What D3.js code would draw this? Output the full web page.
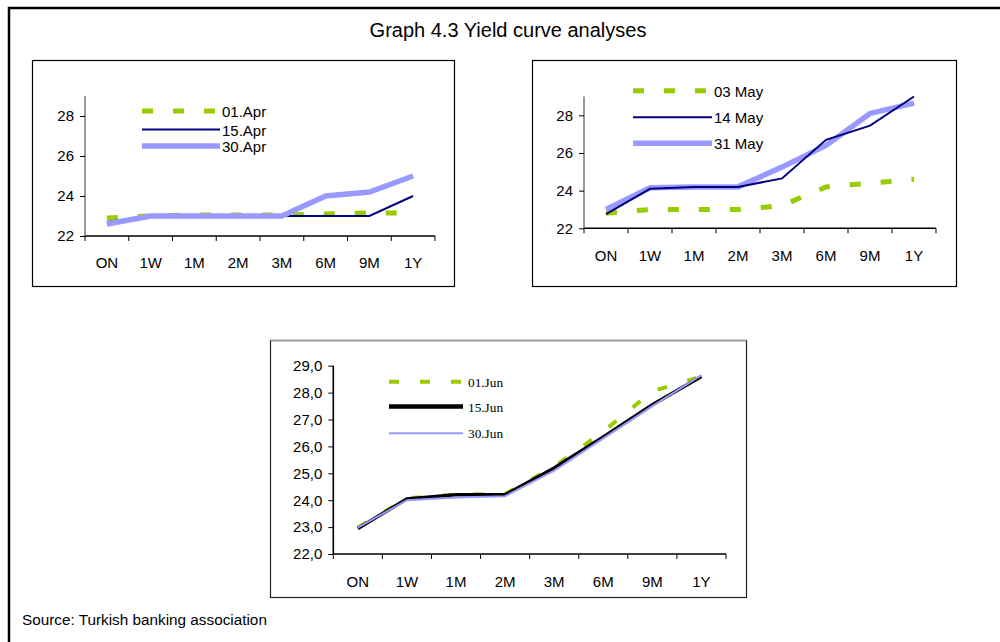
<!DOCTYPE html>
<html>
<head>
<meta charset="utf-8">
<script src="https://cdn.jsdelivr.net/npm/d3@7"></script>
<style>
  html, body { margin: 0; padding: 0; background: #fff; }
  svg { display: block; }
</style>
</head>
<body>
<svg id="chart" width="1000" height="642" font-family="Arial, 'Liberation Sans', sans-serif"></svg>
<script>
// Maturities on the x axis
const tenors = ["ON", "1W", "1M", "2M", "3M", "6M", "9M", "1Y"];

// April yields (%)
const apr01 = [22.9, 23.0, 23.05, 23.05, 23.05, 23.1, 23.15, 23.15];
const apr15 = [22.7, 23.0, 23.0, 23.0, 23.0, 23.0, 23.0, 24.0];
const apr30 = [22.6, 23.0, 23.0, 23.0, 23.0, 24.0, 24.2, 25.0];

// May yields (%)
const may03 = [22.8, 23.0, 23.0, 23.0, 23.2, 24.2, 24.4, 24.6];
const may14 = [22.75, 24.1, 24.2, 24.2, 24.65, 26.7, 27.45, 29.0];
const may31 = [23.0, 24.15, 24.2, 24.2, 25.25, 26.4, 28.1, 28.65];

// June yields (%)
const jun01 = [22.98, 24.07, 24.21, 24.23, 25.25, 26.55, 28.05, 28.6];
const jun15 = [22.95, 24.05, 24.2, 24.2, 25.2, 26.35, 27.55, 28.6];
const jun30 = [22.98, 24.0, 24.1, 24.15, 25.1, 26.3, 27.5, 28.65];

// Y-axis ticks per panel
const ticksApr = [22, 24, 26, 28];
const ticksMay = [22, 24, 26, 28];
const ticksJun = [22, 23, 24, 25, 26, 27, 28, 29];

const GREEN = "#99cc00", NAVY = "#000080", LILAC = "#9999ff", BLACK = "#000000";
const SANS = "Arial, 'Liberation Sans', sans-serif";
const SERIF = "'Times New Roman', 'Liberation Serif', serif";

const svg = d3.select("#chart");

// Outer page frame (open on the right and bottom)
svg.append("path")
  .attr("d", "M9,642 V8 H1000")
  .attr("fill", "none").attr("stroke", "#000").attr("stroke-width", 2.5);

svg.append("text")
  .attr("x", 508).attr("y", 37)
  .attr("text-anchor", "middle")
  .attr("font-size", 20)
  .text("Graph 4.3 Yield curve analyses");

svg.append("text")
  .attr("x", 22).attr("y", 625)
  .attr("font-size", 15.3)
  .text("Source: Turkish banking association");

function panel(cfg) {
  const g = svg.append("g");

  // Panel border
  g.append("rect")
    .attr("x", cfg.box[0] + 0.5).attr("y", cfg.box[1] + 0.5)
    .attr("width", cfg.box[2] - cfg.box[0]).attr("height", cfg.box[3] - cfg.box[1])
    .attr("fill", "#fff").attr("stroke", cfg.boxColor || "#000").attr("stroke-width", 1.2);
  if (cfg.topColor) {
    g.append("line")
      .attr("x1", cfg.box[0] + 0.5).attr("x2", cfg.box[2] + 0.5)
      .attr("y1", cfg.box[1] + 0.5).attr("y2", cfg.box[1] + 0.5)
      .attr("stroke", cfg.topColor).attr("stroke-width", 1.4);
  }

  const x = d3.scaleBand().domain(tenors).range([cfg.x0, cfg.x1]).padding(0);
  const y = d3.scaleLinear().domain([22, 29]).range([cfg.y0, cfg.yTop]);

  // Y axis
  const yAxis = d3.axisLeft(y).tickValues(cfg.ticks).tickSize(5).tickPadding(6)
    .tickFormat(cfg.fmt);
  const ya = g.append("g").attr("transform", `translate(${cfg.x0},0)`).call(yAxis)
    .attr("font-size", 15).attr("font-family", SANS);
  ya.select(".domain").attr("stroke", cfg.yAxisColor).attr("stroke-width", 1.6)
    .attr("d", `M0,${y(29)}V${y(22)}`);
  ya.selectAll(".tick line").attr("stroke", "#000");
  ya.selectAll("text").attr("fill", "#000");

  // X axis with ticks at category boundaries
  const xa = g.append("g");
  xa.append("line")
    .attr("x1", cfg.x0).attr("x2", cfg.x1)
    .attr("y1", y(22)).attr("y2", y(22))
    .attr("stroke", "#000").attr("stroke-width", 1.4);
  const bounds = tenors.map(t => x(t)).concat([cfg.x1]);
  xa.selectAll("line.tk").data(bounds).join("line").attr("class", "tk")
    .attr("x1", d => d).attr("x2", d => d)
    .attr("y1", y(22)).attr("y2", y(22) + 5)
    .attr("stroke", "#000").attr("stroke-width", 1);
  xa.selectAll("text").data(tenors).join("text")
    .attr("x", d => x(d) + x.bandwidth() / 2)
    .attr("y", cfg.labelY)
    .attr("text-anchor", "middle").attr("font-size", 15)
    .text(d => d);

  const line = d3.line()
    .x((d, i) => x(tenors[i]) + x.bandwidth() / 2)
    .y(d => y(d));

  cfg.series.forEach(s => {
    g.append("path")
      .datum(s.values)
      .attr("d", line)
      .attr("fill", "none")
      .attr("stroke", s.color)
      .attr("stroke-width", s.width)
      .attr("stroke-dasharray", s.dash || null)
      .attr("stroke-linejoin", "miter");
  });

  // Legend
  cfg.legend.forEach((s, i) => {
    const ly = cfg.leg.rows[i];
    g.append("line")
      .attr("x1", cfg.leg.x1).attr("x2", cfg.leg.x2)
      .attr("y1", ly).attr("y2", ly)
      .attr("stroke", s.color)
      .attr("stroke-width", s.legWidth || s.width)
      .attr("stroke-dasharray", s.dash || null);
    g.append("text")
      .attr("x", cfg.leg.tx).attr("y", ly + cfg.leg.dy)
      .attr("font-size", cfg.leg.size)
      .attr("font-family", cfg.leg.font)
      .text(s.name);
  });
}

const fmtInt = d3.format("d");
const fmtComma = d => d3.format(".1f")(d).replace(".", ",");

const sApr = [
  { name: "01.Apr", values: apr01, color: GREEN, width: 5, dash: "11,20" },
  { name: "15.Apr", values: apr15, color: NAVY, width: 2 },
  { name: "30.Apr", values: apr30, color: LILAC, width: 5.5 }
];
panel({
  box: [32, 60, 454, 286],
  x0: 85, x1: 435, y0: 236, yTop: 96,
  ticks: ticksApr, fmt: fmtInt, yAxisColor: "#808080",
  labelY: 268,
  series: sApr, legend: sApr,
  leg: { x1: 142, x2: 220, tx: 222, rows: [111, 129.5, 146], dy: 6, size: 15, font: SANS }
});

const sMay = [
  { name: "03 May", values: may03, color: GREEN, width: 5, dash: "11,20" },
  { name: "31 May", values: may31, color: LILAC, width: 5.5 },
  { name: "14 May", values: may14, color: NAVY, width: 2 }
];
panel({
  box: [532, 60, 956, 286],
  x0: 584, x1: 936, y0: 228.3, yTop: 96.5,
  ticks: ticksMay, fmt: fmtInt, yAxisColor: "#808080",
  labelY: 261,
  series: sMay, legend: [sMay[0], sMay[2], sMay[1]],
  leg: { x1: 633, x2: 712, tx: 714, rows: [90.7, 117.3, 143.3], dy: 6, size: 15, font: SANS }
});

const sJun = [
  { name: "01.Jun", values: jun01, color: GREEN, width: 4, dash: "10,21" },
  { name: "15.Jun", values: jun15, color: BLACK, width: 3.5, legWidth: 4.5 },
  { name: "30.Jun", values: jun30, color: LILAC, width: 2 }
];
panel({
  box: [270, 340, 746, 597], boxColor: "#222", topColor: "#999",
  x0: 333.3, x1: 726, y0: 554, yTop: 365.7,
  ticks: ticksJun, fmt: fmtComma, yAxisColor: "#000",
  labelY: 587,
  series: sJun, legend: sJun,
  leg: { x1: 389, x2: 463, tx: 468, rows: [381.7, 406.5, 433.3], dy: 5, size: 13.3, font: SERIF }
});
</script>
</body>
</html>
